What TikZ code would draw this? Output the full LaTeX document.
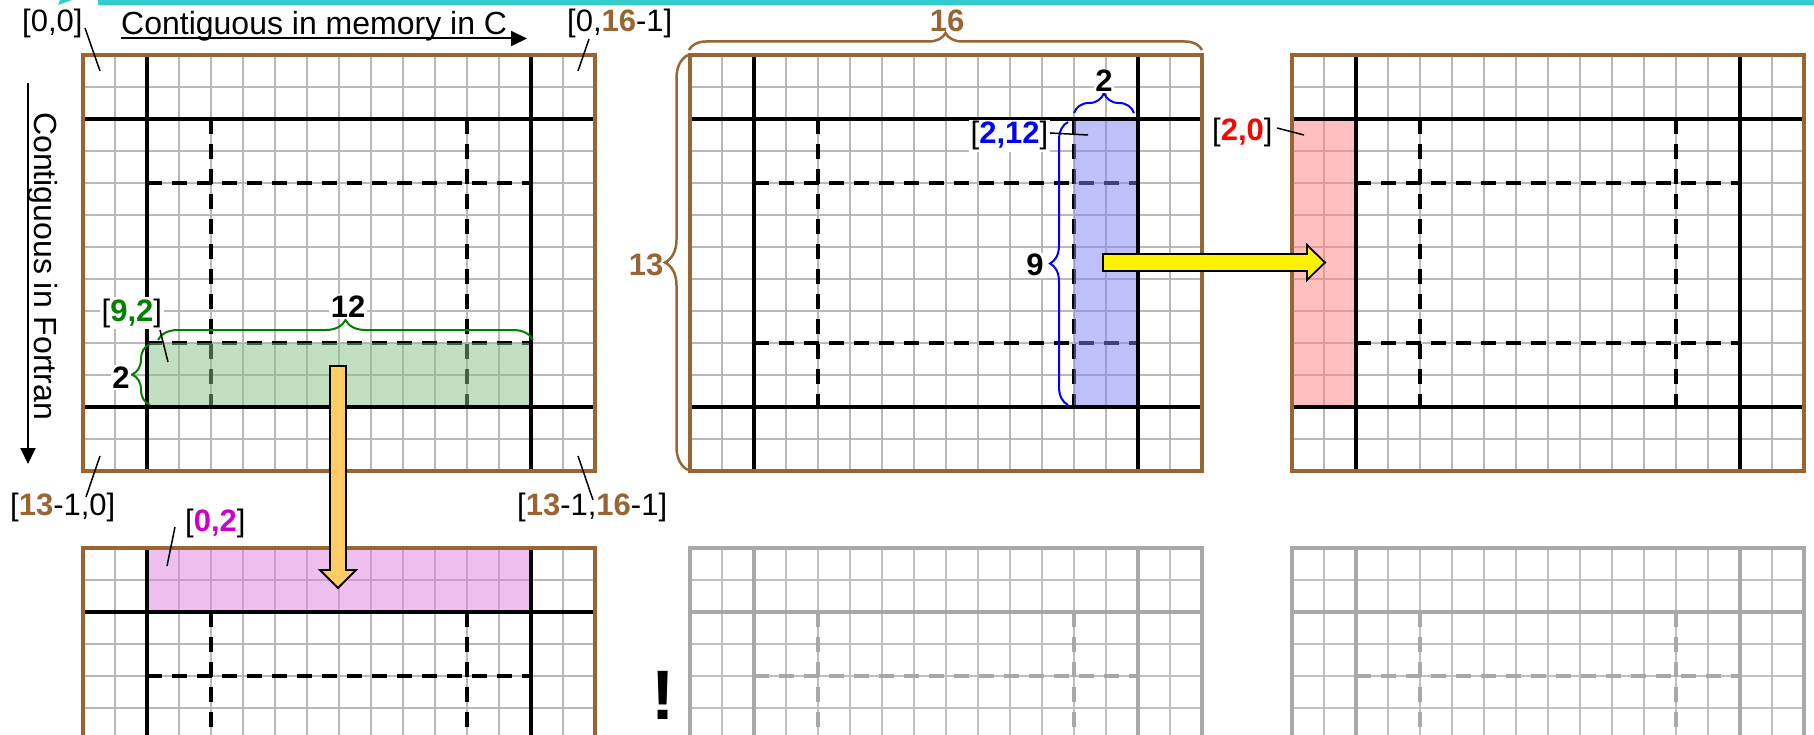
\documentclass[tikz,border=0pt]{standalone}
\usepackage{fontspec}
\setmainfont{Liberation Sans}
\usetikzlibrary{decorations.pathreplacing,arrows.meta}
\definecolor{brownc}{RGB}{153,102,51}
\definecolor{tealc}{RGB}{51,204,204}
\definecolor{gridc}{RGB}{185,185,185}
\definecolor{greyhv}{RGB}{168,168,168}
\definecolor{greythin}{RGB}{192,192,192}
\definecolor{greenc}{RGB}{0,128,0}
\definecolor{bluec}{RGB}{0,0,255}
\definecolor{redc}{RGB}{255,0,0}
\definecolor{magc}{RGB}{204,0,204}
\definecolor{gfill}{RGB}{133,193,133}
\definecolor{bfill}{RGB}{129,129,245}
\definecolor{rfill}{RGB}{255,129,129}
\definecolor{mfill}{RGB}{225,129,225}
\definecolor{orangec}{RGB}{255,204,102}
\newcommand\lblfont{\fontsize{31}{37}\selectfont}
\newcommand\capfont{\fontsize{32}{38}\selectfont}
\newcommand\hl[2]{{\bfseries\color{#1}#2}}
\tikzset{
  dashln/.style={line width=4pt, dash pattern=on 15pt off 10pt},
  heavyln/.style={line width=4pt},
  lbl/.style={font=\lblfont, inner sep=1pt},
  wlbl/.style={font=\lblfont, inner sep=1.5pt, fill=white},
  leader/.style={line width=1.5pt, draw=black},
  curly/.style={decorate, decoration={brace, amplitude=#1}, line width=2pt},
  region/.style={fill opacity=0.5},
  blockarrow/.style={line width=1.8pt, draw=black, line join=miter},
  capline/.style={line width=2pt, -{Triangle[length=16pt,width=15pt]}}
}
\newcommand\thingrid[3]{%
 \begin{scope}[shift={(#1,#2)}]
  \foreach \i in {1,...,15}{\draw[line width=1.8pt,draw=#3] (\i*32,0) -- (\i*32,416);}
  \foreach \j in {1,...,12}{\draw[line width=1.8pt,draw=#3] (0,\j*32) -- (512,\j*32);}
 \end{scope}}
\newcommand\dashgrid[3]{%
 \begin{scope}[shift={(#1,#2)}]
  \draw[dashln,draw=#3] (64,128) -- (448,128) (64,288) -- (448,288) (128,64) -- (128,352) (384,64) -- (384,352);
 \end{scope}}
\newcommand\heavygrid[4]{%
 \begin{scope}[shift={(#1,#2)}]
  \draw[heavyln,draw=#3] (64,0) -- (64,416) (448,0) -- (448,416) (0,64) -- (512,64) (0,352) -- (512,352);
  \draw[heavyln,draw=#4] (0,0) rectangle (512,416);
 \end{scope}}
\begin{document}
\begin{tikzpicture}[x=1pt,y=-1pt]
\useasboundingbox (0,0) rectangle (1814,735);
\clip (0,0) rectangle (1814,735);
\fill[white] (0,0) rectangle (1814,735);
% teal bar at top
\fill[tealc] (98,0) rectangle (1814,5.5);
\fill[tealc] (58,5) -- (72,0) -- (60,0) -- cycle;

% thin grids
\thingrid{83}{55}{gridc}
\thingrid{690}{55}{gridc}
\thingrid{1292}{55}{gridc}
\thingrid{83}{548}{gridc}
\thingrid{690}{548}{greythin}
\thingrid{1292}{548}{greythin}
% dashed
\dashgrid{83}{55}{black}
\dashgrid{690}{55}{black}
\dashgrid{1292}{55}{black}
\dashgrid{83}{548}{black}
\dashgrid{690}{548}{greyhv}
\dashgrid{1292}{548}{greyhv}
% regions
\coordinate (g1) at (147,343); \coordinate (g2) at (531,407);
\coordinate (b1) at (1074,119); \coordinate (b2) at (1138,407);
\coordinate (r1) at (1292,119); \coordinate (r2) at (1356,407);
\coordinate (m1) at (147,548); \coordinate (m2) at (531,612);
\fill[region,gfill] (g1) rectangle (g2);
\fill[region,bfill] (b1) rectangle (b2);
\fill[region,rfill] (r1) rectangle (r2);
\fill[region,mfill] (m1) rectangle (m2);
% heavy lines and frames
\heavygrid{83}{55}{black}{brownc}
\heavygrid{690}{55}{black}{brownc}
\heavygrid{1292}{55}{black}{brownc}
\heavygrid{83}{548}{black}{brownc}
\heavygrid{690}{548}{greyhv}{greyhv}
\heavygrid{1292}{548}{greyhv}{greyhv}

% captions
\node[font=\capfont, inner sep=0pt, anchor=base west] (capc) at (121,35) {Contiguous in memory in C};
\coordinate (capcs) at (121,38.5); \coordinate (capce) at (527,38.5);
\draw[capline] (capcs) -- (capce);
\node[font=\capfont, inner sep=0pt, anchor=base west, rotate=-90] (capf) at (34,112) {Contiguous in Fortran};
\coordinate (capfs) at (28,83); \coordinate (capfe) at (28,464);
\draw[capline] (capfs) -- (capfe);

% braces
\coordinate (br12a) at (158,340); \coordinate (br12b) at (533,340);
\draw[curly=20, greenc] (br12a) -- (br12b);
\coordinate (br2ga) at (150,405); \coordinate (br2gb) at (150,344);
\draw[curly=18, greenc] (br2ga) -- (br2gb);
\coordinate (br16a) at (689,50); \coordinate (br16b) at (1202,50);
\draw[curly=17, brownc, line width=2.5pt] (br16a) -- (br16b);
\coordinate (br13a) at (688,470); \coordinate (br13b) at (688,55);
\draw[curly=23, brownc, line width=2.5pt] (br13a) -- (br13b);
\coordinate (br2ba) at (1074,113); \coordinate (br2bb) at (1134,113);
\draw[curly=20, bluec] (br2ba) -- (br2bb);
\coordinate (br9a) at (1068,405); \coordinate (br9b) at (1068,122);
\draw[curly=18, bluec] (br9a) -- (br9b);

% block arrows
\draw[blockarrow, fill=orangec] (330,366) -- (346,366) -- (346,570) -- (356,570) -- (338,588) -- (320,570) -- (330,570) -- cycle;
\draw[blockarrow, fill=yellow] (1103,254) -- (1307,254) -- (1307,245) -- (1325,262.5) -- (1307,280) -- (1307,271) -- (1103,271) -- cycle;

% leaders
\coordinate (la1) at (85,28);   \coordinate (la2) at (100,71);
\coordinate (lb1) at (589,39);  \coordinate (lb2) at (578,71);
\coordinate (lc1) at (100,456); \coordinate (lc2) at (86,497);
\coordinate (ld1) at (578,456); \coordinate (ld2) at (593,500);
\coordinate (le1) at (160,330); \coordinate (le2) at (168,362);
\coordinate (lf1) at (175,527); \coordinate (lf2) at (167,566);
\coordinate (lg1) at (1050,133);\coordinate (lg2) at (1088,135);
\coordinate (lh1) at (1277,128);\coordinate (lh2) at (1304,135);
\foreach \p in {a,b,c,d,e,f,g,h}{\draw[leader] (l\p1) -- (l\p2);}

% labels
\node[lbl, anchor=base west] (t00) at (21,32) {[0,0]};
\node[lbl, anchor=base west] (t0n) at (566,32) {[0,\hl{brownc}{16}-1]};
\node[lbl, anchor=base west] (tm0) at (9,515) {[\hl{brownc}{13}-1,0]};
\node[lbl, anchor=base west] (tmn) at (516,515) {[\hl{brownc}{13}-1,\hl{brownc}{16}-1]};
\node[wlbl, anchor=base west] (t92) at (100,321) {[\hl{greenc}{9,2}]};
\node[wlbl, anchor=base] (t12) at (348,317) {\bfseries 12};
\node[wlbl, anchor=base] (t2g) at (121,388) {\bfseries 2};
\node[lbl, anchor=base west] (t02) at (184,531) {[\hl{magc}{0,2}]};
\node[lbl, anchor=base] (t16) at (947,32) {\hl{brownc}{16}};
\node[lbl, anchor=base] (t13) at (646,276) {\hl{brownc}{13}};
\node[wlbl, anchor=base] (t2b) at (1104,92) {\bfseries 2};
\node[wlbl, anchor=base west] (t212) at (969,144) {[\hl{bluec}{2,12}]};
\node[wlbl, anchor=base] (t9) at (1035,276) {\bfseries 9};
\node[lbl, anchor=base west] (t20) at (1211,141) {[\hl{redc}{2,0}]};
\node[font=\fontsize{70}{74}\selectfont\bfseries, inner sep=0pt, anchor=base] (excl) at (663,719) {!};
\end{tikzpicture}
\end{document}
